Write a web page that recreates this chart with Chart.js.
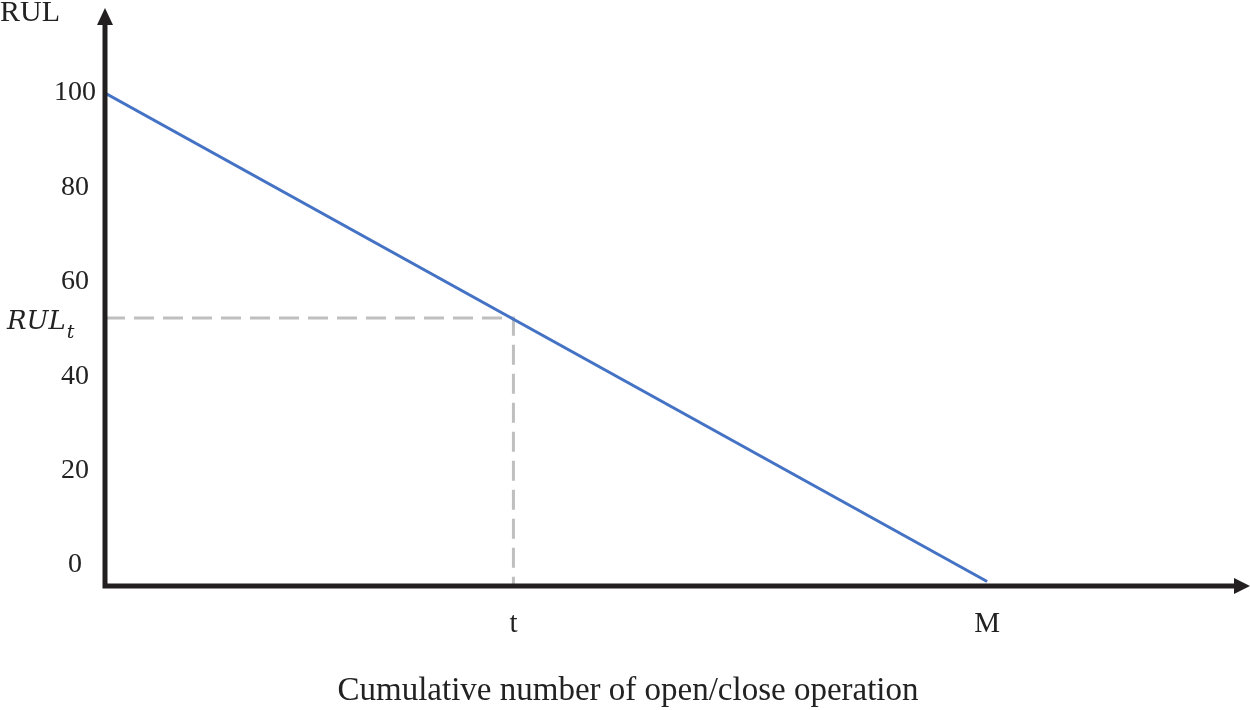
<!DOCTYPE html>
<html>
<head>
<meta charset="utf-8">
<script src="https://cdn.jsdelivr.net/npm/chart.js@4.4.1/dist/chart.umd.min.js"></script>
<style>
    html, body { margin: 0; padding: 0; background: #fff; }
    #wrap { width: 1250px; height: 710px; position: relative; }
</style>
</head>
<body>
<div id="wrap"><canvas id="rulChart"></canvas></div>
<script>
// values (x in arbitrary units, M = 100)
const yTicks = [0, 20, 40, 60, 80, 100];
const lineX = [0, 100];          // start, M
const lineY = [100, -3.5];       // RUL drops to the axis at M
const tValue = 46.3;
const rulT = 52.3;
const xTickValues = [46.3, 100];
const xTickLabels = ['t', 'M'];
const yMin = -4.45, yMax = 118;
const xMax = 129.8;

const serif = '"Liberation Serif", "Times New Roman", serif';
const ink = '#231f20';

// axes with arrow heads + the extra labels
const axesPlugin = {
    id: 'axesArrows',
    afterDatasetsDraw(chart) {
        const { ctx, chartArea: a } = chart;
        ctx.save();
        ctx.strokeStyle = ink;
        ctx.fillStyle = ink;
        ctx.lineWidth = 5;
        ctx.beginPath();
        ctx.moveTo(a.left, a.bottom);
        ctx.lineTo(a.left, a.top + 12);
        ctx.moveTo(a.left - 2.5, a.bottom);
        ctx.lineTo(a.right - 12, a.bottom);
        ctx.stroke();
        // y arrow
        ctx.beginPath();
        ctx.moveTo(a.left, a.top);
        ctx.lineTo(a.left - 8, a.top + 17);
        ctx.lineTo(a.left + 8, a.top + 17);
        ctx.closePath();
        ctx.fill();
        // x arrow
        ctx.beginPath();
        ctx.moveTo(a.right, a.bottom);
        ctx.lineTo(a.right - 16, a.bottom - 8);
        ctx.lineTo(a.right - 16, a.bottom + 8);
        ctx.closePath();
        ctx.fill();

        ctx.fillStyle = '#222';
        ctx.font = '30px ' + serif;
        ctx.textBaseline = 'alphabetic';
        ctx.textAlign = 'left';
        ctx.fillText('RUL', 0, 21);

        ctx.font = '33px ' + serif;
        ctx.textAlign = 'center';
        ctx.fillText('Cumulative number of open/close operation', 628, 700);

        // RUL_t label
        const yPix = chart.scales.y.getPixelForValue(rulT);
        ctx.textAlign = 'left';
        ctx.font = 'italic 26px "DejaVu Serif", serif';
        ctx.fillText('RUL', 7, yPix + 11);
        const w = ctx.measureText('RUL').width;
        ctx.font = 'italic 19px "DejaVu Serif", serif';
        ctx.fillText('t', 7 + w + 1, yPix + 20);
        ctx.restore();
    }
};

const noPad = s => { s.paddingTop = 0; s.paddingBottom = 0; s.paddingLeft = 0; s.paddingRight = 0; };

new Chart(document.getElementById('rulChart'), {
    type: 'scatter',
    data: {
        datasets: [
            {
                label: 'RUL',
                data: lineX.map((x, i) => ({ x, y: lineY[i] })),
                showLine: true,
                borderColor: '#4472c4',
                borderWidth: 3,
                pointRadius: 0,
                order: 1,
            },
            {
                label: 'guide',
                data: [{ x: 0, y: rulT }, { x: tValue, y: rulT }, { x: tValue, y: yMin }],
                showLine: true,
                borderColor: '#bfbfbf',
                borderWidth: 3,
                borderDash: [20, 9],
                pointRadius: 0,
                order: 2,
            }
        ]
    },
    options: {
        responsive: true,
        maintainAspectRatio: false,
        animation: false,
        layout: { padding: { top: 8, right: 0, left: 0, bottom: 0 } },
        plugins: { legend: { display: false }, tooltip: { enabled: false } },
        scales: {
            x: {
                type: 'linear',
                min: 0,
                max: xMax,
                grid: { display: false },
                border: { display: false },
                afterBuildTicks: s => { s.ticks = xTickValues.map(v => ({ value: v })); },
                afterFit: s => { s.height = 124; noPad(s); },
                ticks: {
                    padding: 13,
                    color: '#222',
                    font: { family: serif, size: 29 },
                    callback: (v) => xTickLabels[xTickValues.indexOf(v)] ?? '',
                    maxRotation: 0,
                    autoSkip: false,
                }
            },
            y: {
                min: yMin,
                max: yMax,
                grid: { display: false },
                border: { display: false },
                afterBuildTicks: s => { s.ticks = yTicks.map(v => ({ value: v })); },
                afterFit: s => { s.width = 105; noPad(s); },
                ticks: {
                    padding: 1,
                    crossAlign: 'center',
                    color: '#222',
                    font: { family: serif, size: 28 },
                }
            }
        }
    },
    plugins: [axesPlugin]
});
</script>
</body>
</html>
